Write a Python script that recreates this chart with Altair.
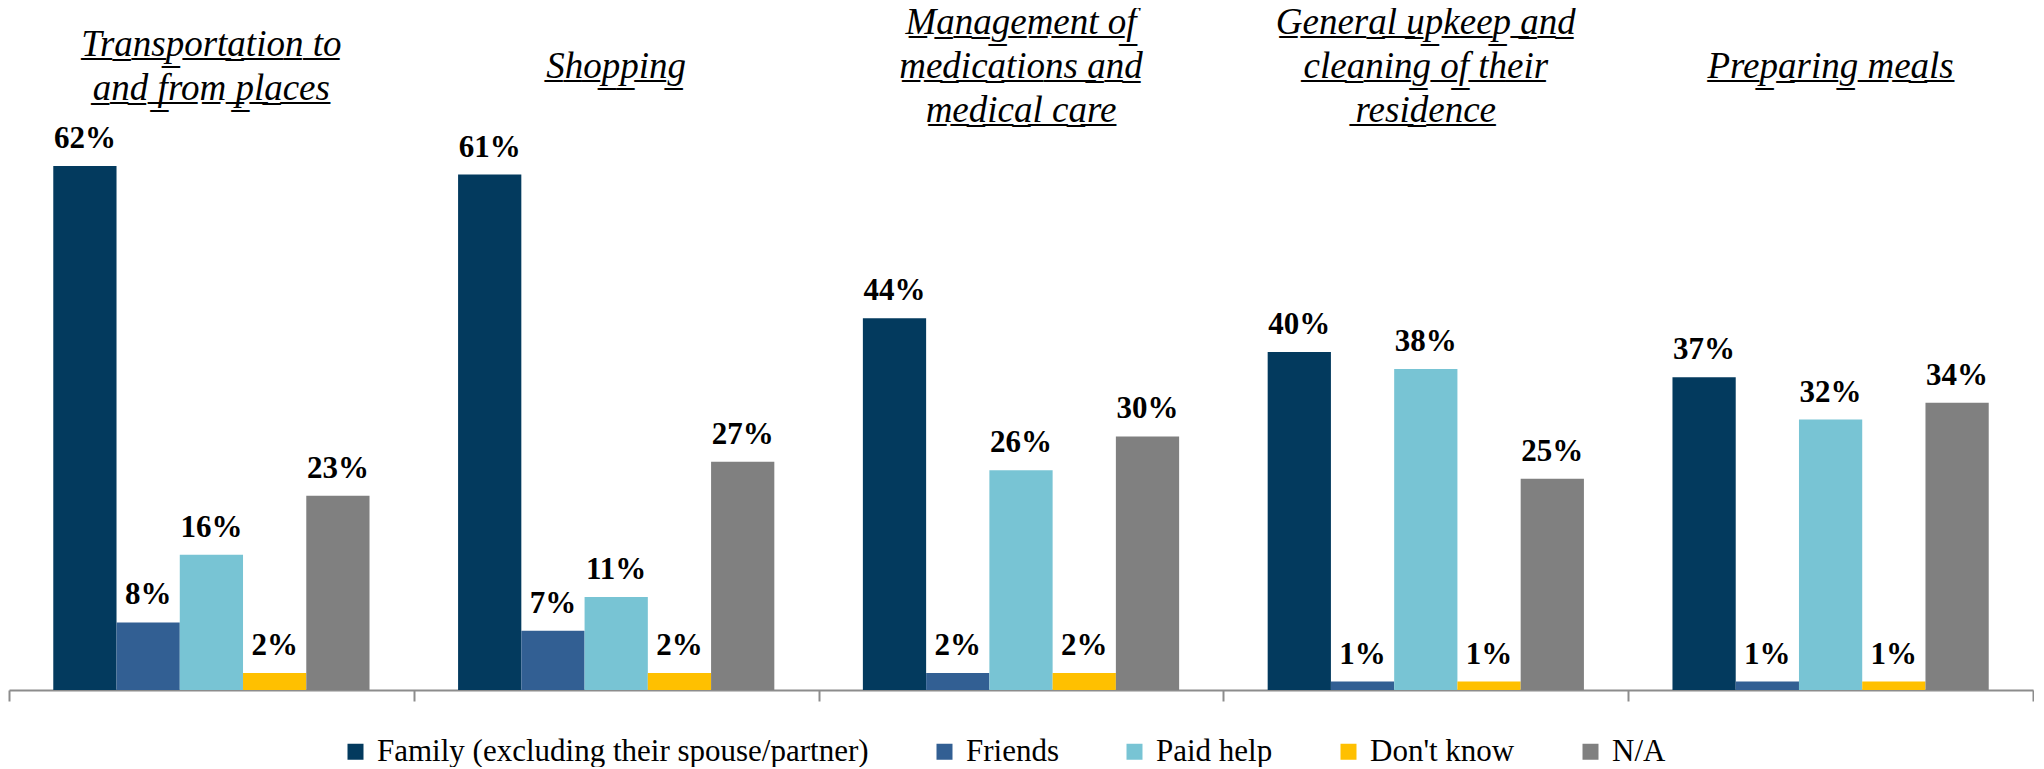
import altair as alt
import pandas as pd

tasks = [
    "Transportation to and from places",
    "Shopping",
    "Management of medications and medical care",
    "General upkeep and cleaning of their residence",
    "Preparing meals",
]
task_lines = [
    ["Transportation to", "and from places"],
    ["Shopping"],
    ["Management of", "medications and", "medical care"],
    ["General upkeep and", "cleaning of their", "residence"],
    ["Preparing meals"],
]
series = ["Family (excluding their spouse/partner)", "Friends", "Paid help", "Don't know", "N/A"]
colors = ["#033A5E", "#325F93", "#78C4D4", "#FFC000", "#808080"]

family = [62, 61, 44, 40, 37]
friends = [8, 7, 2, 1, 1]
paid_help = [16, 11, 26, 38, 32]
dont_know = [2, 2, 2, 1, 1]
na = [23, 27, 30, 25, 34]

values_by_series = [family, friends, paid_help, dont_know, na]
rows = []
for s, vals in zip(series, values_by_series):
    for t, v in zip(tasks, vals):
        rows.append({"task": t, "series": s, "value": v, "label": f"{v}%"})
df = pd.DataFrame(rows)

UL = "\u0332"
def underline(s):
    return "".join(ch + UL for ch in s)

title_rows = []
for t, lines in zip(tasks, task_lines):
    n = len(lines)
    for i, line in enumerate(lines):
        title_rows.append({"task": t, "text": underline(line), "pos": (n - 1) / 2 - i})
titles_df = pd.DataFrame(title_rows)

FONT = "Liberation Serif"
W = 2024
HT = 116          # title band height
LINE = 44         # title line spacing
H = 565           # plot height
D = 66.86         # top of the value scale

x_scale = alt.Scale(paddingInner=0, paddingOuter=0)
xo_scale = alt.Scale(paddingInner=0, paddingOuter=0.70)
y_scale = alt.Scale(domain=[0, D], nice=False, zero=True)

half = HT / 2 / LINE
titles = alt.Chart(titles_df).mark_text(
    font=FONT, fontSize=37, fontStyle="italic", color="#000000",
    baseline="middle", align="center",
).encode(
    x=alt.X("task:N", sort=tasks, scale=x_scale, axis=None),
    y=alt.Y("pos:Q", scale=alt.Scale(domain=[-half, half], nice=False, zero=False), axis=None),
    text=alt.Text("text:N"),
).properties(width=W, height=HT)

x_axis = alt.Axis(orient="bottom", labels=False, title=None, domain=True,
                  domainColor="#8C8C8C", domainWidth=2, ticks=True,
                  tickColor="#8C8C8C", tickWidth=2, tickSize=11,
                  tickBand="extent", grid=False)

base = alt.Chart(df)

bars = base.mark_bar().encode(
    x=alt.X("task:N", sort=tasks, scale=x_scale, axis=x_axis),
    xOffset=alt.XOffset("series:N", sort=series, scale=xo_scale),
    y=alt.Y("value:Q", scale=y_scale, axis=None),
    color=alt.Color("series:N", sort=series,
                    scale=alt.Scale(domain=series, range=colors),
                    legend=alt.Legend(orient="none", direction="horizontal",
                                      legendX=331, legendY=727, title=None,
                                      symbolType="square", symbolSize=256,
                                      symbolStrokeWidth=0, symbolOpacity=1,
                                      labelFont=FONT, labelFontSize=31,
                                      labelColor="#000000", labelOffset=6,
                                      labelLimit=1000, columnPadding=60,
                                      padding=0)),
)

labels = base.mark_text(
    font=FONT, fontSize=31, fontWeight="bold", color="#000000",
    baseline="alphabetic", align="center", dy=-18,
).encode(
    x=alt.X("task:N", sort=tasks, scale=x_scale, axis=x_axis),
    xOffset=alt.XOffset("series:N", sort=series, scale=xo_scale),
    y=alt.Y("value:Q", scale=y_scale, axis=None),
    text=alt.Text("label:N"),
)

main = alt.layer(bars, labels).properties(width=W, height=H)

chart = (
    alt.vconcat(titles, main, spacing=0, bounds="flush")
    .properties(padding={"top": -5, "left": 0, "right": 0, "bottom": 0})
    .configure_view(stroke=None)
    .configure_legend(labelFont=FONT)
)

chart.save("out.html", embed_options={"renderer": "svg", "actions": False})
